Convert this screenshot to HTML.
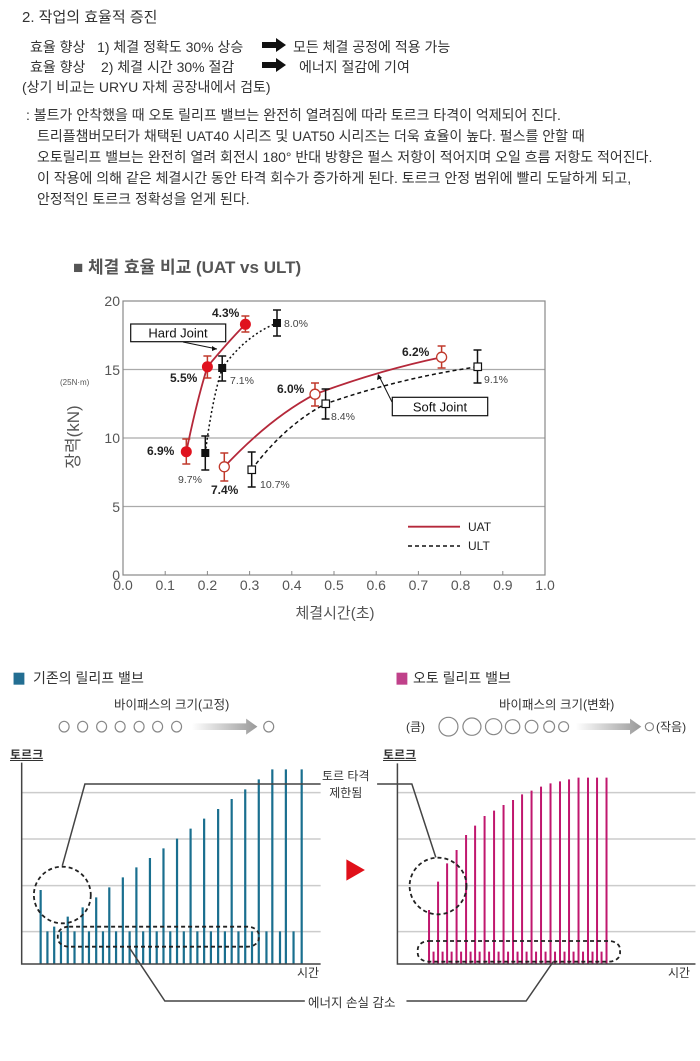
<!DOCTYPE html>
<html><head><meta charset="utf-8"><style>
body{margin:0;background:#fff;width:700px;height:1061px;position:relative;overflow:hidden;font-family:"Liberation Sans","Noto Sans CJK KR",sans-serif;color:#333}
.t{position:absolute;white-space:nowrap;font-size:14px;line-height:16px}
</style></head><body>
<div class="t" style="left:22px;top:10px;font-size:15px">2. 작업의 효율적 증진</div>
<div class="t" style="left:30px;top:39px">효율 향상 &nbsp;&nbsp;1) 체결 정확도 30% 상승</div>
<div class="t" style="left:293px;top:39px">모든 체결 공정에 적용 가능</div>
<div class="t" style="left:30px;top:59px">효율 향상 &nbsp;&nbsp;&nbsp;2) 체결 시간 30% 절감</div>
<div class="t" style="left:299px;top:59px">에너지 절감에 기여</div>
<div class="t" style="left:22px;top:79px">(상기 비교는 URYU 자체 공장내에서 검토)</div>
<div class="t" style="left:26px;top:107px">: 볼트가 안착했을 때 오토 릴리프 밸브는 완전히 열려짐에 따라 토르크 타격이 억제되어 진다.</div>
<div class="t" style="left:37px;top:128px">트리플챔버모터가 채택된 UAT40 시리즈 및 UAT50 시리즈는 더욱 효율이 높다. 펄스를 안할 때</div>
<div class="t" style="left:37px;top:149px">오토릴리프 밸브는 완전히 열려 회전시 180° 반대 방향은 펄스 저항이 적어지며 오일 흐름 저항도 적어진다.</div>
<div class="t" style="left:37px;top:170px">이 작용에 의해 같은 체결시간 동안 타격 회수가 증가하게 된다. 토르크 안정 범위에 빨리 도달하게 되고,</div>
<div class="t" style="left:37px;top:191px">안정적인 토르크 정확성을 얻게 된다.</div>
<svg style="position:absolute;left:0;top:0" width="700" height="240">
<path d="M262 42h14v-4l10 7-10 7v-4h-14z" fill="#111"/><path d="M262 62h14v-4l10 7-10 7v-4h-14z" fill="#111"/>
</svg>
<div class="t" style="left:73px;top:259px;font-size:17px;line-height:18px;color:#555;font-weight:bold">■ 체결 효율 비교 (UAT vs ULT)</div>
<svg style="position:absolute;left:0;top:240px" width="700" height="400" viewBox="0 240 700 400" font-family="Liberation Sans, sans-serif">
<g stroke="#aaa" stroke-width="1.2"><line x1="123" y1="369.5" x2="545" y2="369.5"/><line x1="123" y1="438" x2="545" y2="438"/><line x1="123" y1="506.5" x2="545" y2="506.5"/></g>
<rect x="123" y="301" width="422" height="274" fill="none" stroke="#888" stroke-width="1.2"/>
<g stroke="#888">
<line x1="165.2" y1="575" x2="165.2" y2="571"/><line x1="207.4" y1="575" x2="207.4" y2="571"/><line x1="249.6" y1="575" x2="249.6" y2="571"/><line x1="291.8" y1="575" x2="291.8" y2="571"/><line x1="334" y1="575" x2="334" y2="571"/><line x1="376.2" y1="575" x2="376.2" y2="571"/><line x1="418.4" y1="575" x2="418.4" y2="571"/><line x1="460.6" y1="575" x2="460.6" y2="571"/><line x1="502.8" y1="575" x2="502.8" y2="571"/></g>
<g font-size="14" fill="#555" text-anchor="middle">
<text x="123" y="590">0.0</text><text x="165.2" y="590">0.1</text><text x="207.4" y="590">0.2</text><text x="249.6" y="590">0.3</text><text x="291.8" y="590">0.4</text><text x="334" y="590">0.5</text><text x="376.2" y="590">0.6</text><text x="418.4" y="590">0.7</text><text x="460.6" y="590">0.8</text><text x="502.8" y="590">0.9</text><text x="545" y="590">1.0</text></g>
<g font-size="14" fill="#555" text-anchor="end">
<text x="120" y="306">20</text><text x="120" y="375">15</text><text x="120" y="443">10</text><text x="120" y="512">5</text><text x="120" y="580">0</text></g>
<text x="60" y="385" font-size="8" fill="#555">(25N·m)</text>
<text transform="translate(79,437) rotate(-90)" font-size="17" fill="#555" text-anchor="middle" font-family="Liberation Sans, Noto Sans CJK KR, sans-serif">장력(kN)</text>
<text x="335" y="618" font-size="15" fill="#555" text-anchor="middle" font-family="Liberation Sans, Noto Sans CJK KR, sans-serif">체결시간(초)</text>
<g fill="none" stroke-width="1.8">
<path d="M186.3 451.7 Q197 400 207.4 366.8 Q228 342 245.4 324.3" stroke="#b5283a"/>
<path d="M205.3 453.1 Q212 400 222.2 368.1 Q245 336 277 322.9" stroke="#111" stroke-dasharray="2 2.5" stroke-width="1.5"/>
<path d="M224.3 466.8 Q270 418 315 394.2 Q380 370 441.6 357.2" stroke="#b5283a"/>
<path d="M251.7 469.5 Q285 425 325.6 403.8 Q400 378 477.5 366.8" stroke="#111" stroke-dasharray="4 3" stroke-width="1.5"/>
</g>
<g stroke="#c0392b" stroke-width="1.5">
<path d="M186.3 439v25M182.3 439h8M182.3 464h8M207.4 356v22M203.4 356h8M203.4 378h8M245.4 316v16M241.4 316h8M241.4 332h8M224.3 453v28M220.3 453h8M220.3 481h8M315 383v23M311 383h8M311 406h8M441.6 346v22M437.6 346h8M437.6 368h8"/></g>
<g stroke="#111" stroke-width="1.5">
<path d="M205.3 436v34M201.3 436h8M201.3 470h8M222.2 356v25M218.2 356h8M218.2 381h8M277 310v26M273 310h8M273 336h8M251.7 452v35M247.7 452h8M247.7 487h8M325.6 389v30M321.6 389h8M321.6 419h8M477.5 350v33M473.5 350h8M473.5 383h8"/></g>
<g fill="#e0121e"><circle cx="186.3" cy="451.7" r="5.5"/><circle cx="207.4" cy="366.8" r="5.5"/><circle cx="245.4" cy="324.3" r="5.5"/></g>
<g fill="#fff" stroke="#c0392b" stroke-width="1.3"><circle cx="224.3" cy="466.8" r="5"/><circle cx="315" cy="394.2" r="5"/><circle cx="441.6" cy="357.2" r="5"/></g>
<g fill="#111"><rect x="201.3" y="449" width="8" height="8"/><rect x="218.2" y="364" width="8" height="8"/><rect x="273" y="319" width="8" height="8"/></g>
<g fill="#fff" stroke="#111" stroke-width="1.2"><rect x="248" y="466" width="7.5" height="7.5"/><rect x="322" y="400" width="7.5" height="7.5"/><rect x="474" y="363" width="7.5" height="7.5"/></g>
<g font-size="12" font-weight="bold" fill="#222">
<text x="212" y="317">4.3%</text><text x="170" y="382">5.5%</text><text x="147" y="455">6.9%</text><text x="211" y="494">7.4%</text><text x="277" y="393">6.0%</text><text x="402" y="356">6.2%</text></g>
<g font-size="10.5" fill="#444">
<text x="284" y="327">8.0%</text><text x="230" y="384">7.1%</text><text x="178" y="483">9.7%</text><text x="260" y="488">10.7%</text><text x="331" y="420">8.4%</text><text x="484" y="383">9.1%</text></g>
<rect x="130.7" y="324" width="95" height="17.7" fill="#fff" stroke="#111" stroke-width="1.2"/>
<text x="178" y="337.5" font-size="13" text-anchor="middle" fill="#111">Hard Joint</text>
<path d="M183 342 L217 349" stroke="#111" fill="none"/><path d="M217 349 l-5 -3 l0 5z" fill="#111"/>
<rect x="392.3" y="397.3" width="95.4" height="18.4" fill="#fff" stroke="#111" stroke-width="1.2"/>
<text x="440" y="411.5" font-size="13" text-anchor="middle" fill="#111">Soft Joint</text>
<path d="M392 402 L379 376" stroke="#111" fill="none"/><path d="M378 374 l-1 6 l5 -2z" fill="#111"/>
<line x1="408" y1="526.7" x2="460" y2="526.7" stroke="#b5283a" stroke-width="1.8"/>
<line x1="408" y1="546" x2="460" y2="546" stroke="#111" stroke-width="1.5" stroke-dasharray="4 3"/>
<text x="468" y="531" font-size="12" fill="#222">UAT</text><text x="468" y="550" font-size="12" fill="#222">ULT</text>
</svg>
<svg style="position:absolute;left:0;top:660px" width="700" height="380" viewBox="0 0 1550 1140" preserveAspectRatio="none">
<defs><linearGradient id="g" x1="0" x2="1"><stop offset="0" stop-color="#fff"/><stop offset="1" stop-color="#999"/></linearGradient></defs>
<rect x="30" y="38" width="24" height="36" fill="#236e92"/><rect x="878" y="38" width="24" height="36" fill="#c0418a"/>
<g fill="none" stroke="#888" stroke-width="1.2">
<ellipse cx="142" cy="200" rx="11" ry="16" vector-effect="non-scaling-stroke"/><ellipse cx="183" cy="200" rx="11" ry="16" vector-effect="non-scaling-stroke"/><ellipse cx="225" cy="200" rx="11" ry="16" vector-effect="non-scaling-stroke"/><ellipse cx="266" cy="200" rx="11" ry="16" vector-effect="non-scaling-stroke"/><ellipse cx="308" cy="200" rx="11" ry="16" vector-effect="non-scaling-stroke"/><ellipse cx="349" cy="200" rx="11" ry="16" vector-effect="non-scaling-stroke"/><ellipse cx="391" cy="200" rx="11" ry="16" vector-effect="non-scaling-stroke"/><ellipse cx="595" cy="200" rx="11" ry="16" vector-effect="non-scaling-stroke"/>
<ellipse cx="993" cy="200" rx="21" ry="28" vector-effect="non-scaling-stroke"/><ellipse cx="1045" cy="200" rx="20" ry="26" vector-effect="non-scaling-stroke"/><ellipse cx="1093" cy="200" rx="18" ry="24" vector-effect="non-scaling-stroke"/><ellipse cx="1135" cy="200" rx="16" ry="21" vector-effect="non-scaling-stroke"/><ellipse cx="1177" cy="200" rx="14" ry="19" vector-effect="non-scaling-stroke"/><ellipse cx="1216" cy="200" rx="12" ry="17" vector-effect="non-scaling-stroke"/><ellipse cx="1248" cy="200" rx="11" ry="15" vector-effect="non-scaling-stroke"/><ellipse cx="1438" cy="200" rx="9" ry="12" vector-effect="non-scaling-stroke"/>
</g>
<path d="M425 190h120v-14l25 24-25 24v-14h-120z" fill="url(#g)"/>
<path d="M1275 190h120v-14l25 24-25 24v-14h-120z" fill="url(#g)"/>
<g stroke="#ccc" stroke-width="1.5">
<line x1="48" y1="398" x2="710" y2="398" vector-effect="non-scaling-stroke"/><line x1="48" y1="537" x2="710" y2="537" vector-effect="non-scaling-stroke"/><line x1="48" y1="677" x2="710" y2="677" vector-effect="non-scaling-stroke"/><line x1="48" y1="815" x2="710" y2="815" vector-effect="non-scaling-stroke"/>
<line x1="880" y1="398" x2="1540" y2="398" vector-effect="non-scaling-stroke"/><line x1="880" y1="537" x2="1540" y2="537" vector-effect="non-scaling-stroke"/><line x1="880" y1="677" x2="1540" y2="677" vector-effect="non-scaling-stroke"/><line x1="880" y1="815" x2="1540" y2="815" vector-effect="non-scaling-stroke"/></g>
<g stroke="#1a6f8f" stroke-width="2.2">
<path vector-effect="non-scaling-stroke" d="M90 912V690M150 912V770M183 912V742M213 912V712M242 912V682M272 912V652M302 912V622M332 912V594M362 912V565M392 912V536M422 912V506M452 912V476M483 912V447M513 912V417M543 912V388M573 912V358M603 912V328M633 912V328M668 912V328M105 912V814M120 912V800M135 912V814M165 912V814M197 912V814M228 912V814M257 912V814M287 912V814M317 912V814M347 912V814M377 912V814M407 912V814M437 912V814M467 912V814M498 912V814M528 912V814M558 912V814M590 912V814M620 912V814M650 912V814"/></g>
<g stroke="#c0176e" stroke-width="2">
<path vector-effect="non-scaling-stroke" d="M950 912V750M970 912V665M990 912V610M1011 912V570M1032 912V525M1052 912V497M1073 912V468M1094 912V452M1115 912V435M1136 912V420M1156 912V403M1177 912V392M1198 912V380M1219 912V370M1240 912V364M1260 912V358M1281 912V353M1302 912V353M1322 912V353M1343 912V353M960 912V875M980 912V875M1000 912V875M1021 912V875M1042 912V875M1062 912V875M1083 912V875M1104 912V875M1125 912V875M1146 912V875M1166 912V875M1187 912V875M1208 912V875M1229 912V875M1250 912V875M1270 912V875M1291 912V875M1312 912V875M1332 912V875"/></g>
<g stroke="#444" stroke-width="1.5" fill="none">
<path vector-effect="non-scaling-stroke" d="M48 308V912H710M880 310V912H1540"/>
<path vector-effect="non-scaling-stroke" d="M138 617L188 372H710M835 372H912L965 592M285 860L365 1023H675M1225 905L1165 1023H900"/></g>
<g stroke="#222" stroke-width="1.8" fill="none" stroke-dasharray="4 3">
<ellipse vector-effect="non-scaling-stroke" cx="138" cy="705" rx="63" ry="85"/><rect vector-effect="non-scaling-stroke" x="128" y="800" width="445" height="60" rx="25"/>
<ellipse vector-effect="non-scaling-stroke" cx="970" cy="678" rx="63" ry="85"/><rect vector-effect="non-scaling-stroke" x="925" y="843" width="448" height="62" rx="25"/></g>
<path d="M767 598L808 630L767 662z" fill="#e0101a"/>
</svg>
<div class="t" style="left:33px;top:670px;font-size:14px">기존의 릴리프 밸브</div>
<div class="t" style="left:413px;top:670px;font-size:14px">오토 릴리프 밸브</div>
<div class="t" style="left:114px;top:697px;font-size:12.5px">바이패스의 크기(고정)</div>
<div class="t" style="left:499px;top:697px;font-size:12.5px">바이패스의 크기(변화)</div>
<div class="t" style="left:406px;top:719px;font-size:12px">(큼)</div>
<div class="t" style="left:656px;top:719px;font-size:12px">(작음)</div>
<div class="t" style="left:10px;top:747px;font-size:12px;font-weight:bold;text-decoration:underline">토르크</div>
<div class="t" style="left:383px;top:747px;font-size:12px;font-weight:bold;text-decoration:underline">토르크</div>
<div class="t" style="left:322px;top:768px;font-size:12px;text-align:center;line-height:17px">토르 타격<br>제한됨</div>
<div class="t" style="left:297px;top:965px;font-size:12px">시간</div>
<div class="t" style="left:668px;top:965px;font-size:12px">시간</div>
<div class="t" style="left:308px;top:995px;font-size:12.5px">에너지 손실 감소</div>
</body></html>
